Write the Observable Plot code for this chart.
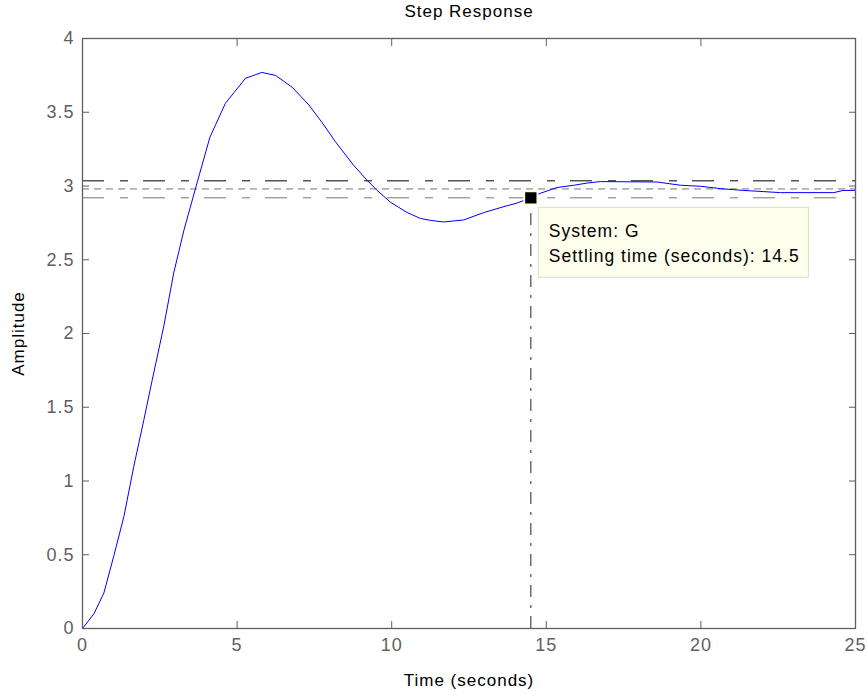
<!DOCTYPE html>
<html><head><meta charset="utf-8">
<script src="https://cdn.jsdelivr.net/npm/d3@7"></script>
<script src="https://cdn.jsdelivr.net/npm/@observablehq/plot@0.6"></script>
<style>body{margin:0;background:#fff} svg{display:block}</style>
</head><body><div id="chart"></div>
<script>
const time = [0,0.37,0.69,1.01,1.34,1.66,1.98,2.25,2.63,2.95,3.28,3.65,4.12,4.62,5.27,5.8,6.24,6.78,7.32,7.75,8.18,8.77,9.2,9.53,9.96,10.5,10.93,11.25,11.68,12.33,12.98,13.63,14.06,14.5,14.8,15.35,15.89,16.32,16.75,18.59,19.34,20.0,20.63,21.39,22.57,24.3,24.6,25];
const amplitude = [0,0.10,0.24,0.49,0.76,1.10,1.41,1.68,2.05,2.41,2.70,2.98,3.33,3.56,3.73,3.77,3.75,3.67,3.55,3.43,3.30,3.14,3.04,2.97,2.89,2.82,2.78,2.767,2.756,2.77,2.82,2.86,2.885,2.92,2.95,2.99,3.005,3.02,3.03,3.027,3.005,2.998,2.982,2.97,2.955,2.955,2.97,2.97];
const xTicks = [0,5,10,15,20,25];
const yTicks = [0,0.5,1,1.5,2,2.5,3,3.5,4];
const yTickLabels = ["0","0.5","1","1.5","2","2.5","3","3.5","4"];
const finalValue = [2.98];
const upperBound = [3.035];
const lowerBound = [2.92];
const settling = [{t: 14.5, v: 2.92}];
const tooltipText = ["System: G", "Settling time (seconds): 14.5"];
const titleText = ["Step Response"];
const xLabel = ["Time (seconds)"];
const yLabel = ["Amplitude"];

const data = time.map((t, i) => ({t, v: amplitude[i]}));
const gray = "#5f5f5f";

const chart = Plot.plot({
  width: 867, height: 693,
  marginLeft: 82, marginRight: 12, marginTop: 38, marginBottom: 65,
  style: {fontFamily: "'Liberation Sans', Arial, sans-serif", letterSpacing: "1px", background: "#fff"},
  x: {domain: [0, 25]},
  y: {domain: [0, 4]},
  marks: [
    Plot.ruleY(upperBound, {stroke: "#000", strokeWidth: 1, strokeDasharray: "22,16,8,15"}),
    Plot.ruleY(finalValue, {stroke: "#777", strokeWidth: 1, strokeDasharray: "7,5"}),
    Plot.ruleY(lowerBound, {stroke: "#777", strokeWidth: 1, strokeDasharray: "22,16,8,15"}),
    Plot.ruleX(settling, {x: "t", y1: 0, y2: "v", stroke: "#222", strokeWidth: 1, strokeDasharray: "12,8,3,8"}),
    Plot.line(data, {x: "t", y: "v", stroke: "#0000ff", strokeWidth: 1}),
    Plot.frame({stroke: gray, strokeWidth: 1.3}),
    Plot.axisX({ticks: xTicks, tickSize: -7, tickFormat: () => "", label: null, stroke: gray}),
    Plot.axisX({anchor: "top", ticks: xTicks, tickSize: -7, tickFormat: () => "", label: null, stroke: gray}),
    Plot.axisY({ticks: yTicks, tickSize: -7, tickFormat: () => "", label: null, stroke: gray}),
    Plot.axisY({anchor: "right", ticks: yTicks, tickSize: -7, tickFormat: () => "", label: null, stroke: gray}),
    Plot.axisX({ticks: xTicks, tickSize: 0, tickPadding: 10, fontSize: 18, fill: gray, label: null}),
    Plot.axisY({ticks: yTicks, tickSize: 0, tickPadding: 8, fontSize: 18, fill: gray, label: null, tickFormat: (d, i) => yTickLabels[i]}),
    Plot.text(titleText, {text: d => d, frameAnchor: "top", dy: -22, lineAnchor: "bottom", textAnchor: "middle", fontSize: 17, fill: "#000"}),
    Plot.text(xLabel, {text: d => d, frameAnchor: "bottom", dy: 52, lineAnchor: "middle", textAnchor: "middle", fontSize: 17, fill: "#000"}),
    Plot.text(yLabel, {text: d => d, frameAnchor: "left", dx: -64, rotate: -90, lineAnchor: "middle", textAnchor: "middle", fontSize: 17, fill: "#000"}),
    Plot.rect(settling, {x1: "t", x2: "t", y1: "v", y2: "v", insetLeft: 8, insetRight: -278, insetTop: 10, insetBottom: -80, fill: "#ffffee", stroke: "#dcdcc8", strokeWidth: 1}),
    Plot.text(settling, {x: "t", y: "v", text: () => tooltipText.join("\n"), dx: 18, dy: 22, textAnchor: "start", lineAnchor: "top", lineHeight: 1.42, fontSize: 17.5, fill: "#000"}),
    Plot.dot(settling, {x: "t", y: "v", symbol: "square", r: 7.5, fill: "#000", stroke: "#ffffdd", strokeWidth: 2})
  ]
});
document.getElementById("chart").append(chart);
</script>
</body></html>
